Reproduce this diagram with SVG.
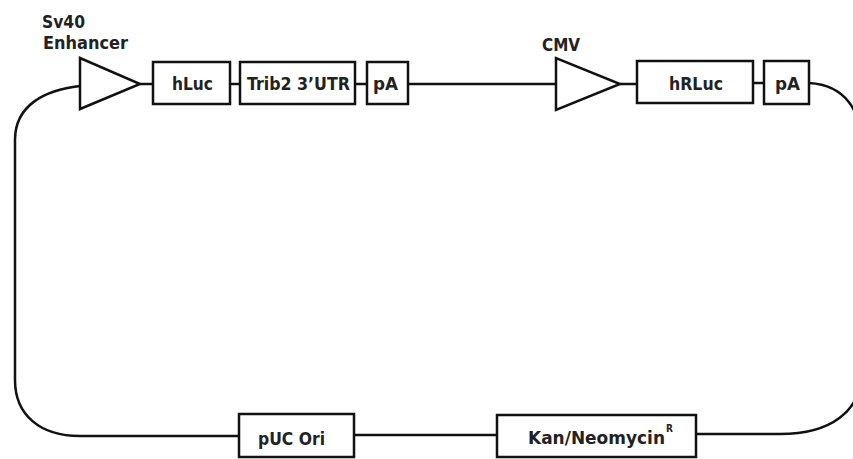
<svg xmlns="http://www.w3.org/2000/svg" width="853" height="459" viewBox="0 0 853 459">
<style>
.box{fill:#fff;stroke:#111;stroke-width:2.5}
.tri{fill:#fff;stroke:#111;stroke-width:2.5;stroke-linejoin:miter}
.ln{fill:none;stroke:#111;stroke-width:2.5}
text{font-family:"DejaVu Sans Condensed","DejaVu Sans",sans-serif;font-stretch:condensed;font-weight:bold;font-size:18px;fill:#222}
.sup{font-size:10px}
</style>
<rect width="853" height="459" fill="#fff"/>
<g id="connectors">
<path class="ln" d="M80 86 C45 90 15 105 15 140 L15 380 C15 415 40 436 80 436 L239 436"/>
<path class="ln" d="M140 84 L153 84 M230 84 L240 84 M355 84 L367 84 M408 84 L556 84 M620 84 L637 84 M753 83 L764 83"/>
<path class="ln" d="M354 435 L497 435"/>
<path class="ln" d="M696 434 L780 434 C830 434 862 412 862 370 L862 150 C862 110 845 85 809 83"/>
</g>
<g id="sv40">
<polygon class="tri" points="80,58 80,109 140,84"/>
<text x="42" y="28" textLength="43" lengthAdjust="spacingAndGlyphs">Sv40</text>
<text x="43" y="49" textLength="85" lengthAdjust="spacingAndGlyphs">Enhancer</text>
</g>
<g id="hluc"><rect class="box" x="153" y="62" width="77" height="42"/><text x="172" y="90" textLength="41" lengthAdjust="spacingAndGlyphs">hLuc</text></g>
<g id="trib2"><rect class="box" x="240" y="62" width="115" height="42"/><text x="247" y="90" textLength="103" lengthAdjust="spacingAndGlyphs">Trib2 3’UTR</text></g>
<g id="pa1"><rect class="box" x="367" y="62" width="41" height="42"/><text x="373" y="90" textLength="25" lengthAdjust="spacingAndGlyphs">pA</text></g>
<g id="cmv">
<polygon class="tri" points="556,58 556,110 620,84"/>
<text x="542" y="51" textLength="38" lengthAdjust="spacingAndGlyphs">CMV</text>
</g>
<g id="hrluc"><rect class="box" x="637" y="61" width="116" height="42"/><text x="669" y="90" textLength="54" lengthAdjust="spacingAndGlyphs">hRLuc</text></g>
<g id="pa2"><rect class="box" x="764" y="61" width="45" height="43"/><text x="775" y="90" textLength="25" lengthAdjust="spacingAndGlyphs">pA</text></g>
<g id="puc"><rect class="box" x="239" y="414" width="115" height="43"/><text x="258" y="445" textLength="67" lengthAdjust="spacingAndGlyphs">pUC Ori</text></g>
<g id="kan"><rect class="box" x="497" y="415" width="199" height="42"/><text x="528" y="444" textLength="137" lengthAdjust="spacingAndGlyphs">Kan/Neomycin</text><text class="sup" x="666" y="432">R</text></g>
</svg>
